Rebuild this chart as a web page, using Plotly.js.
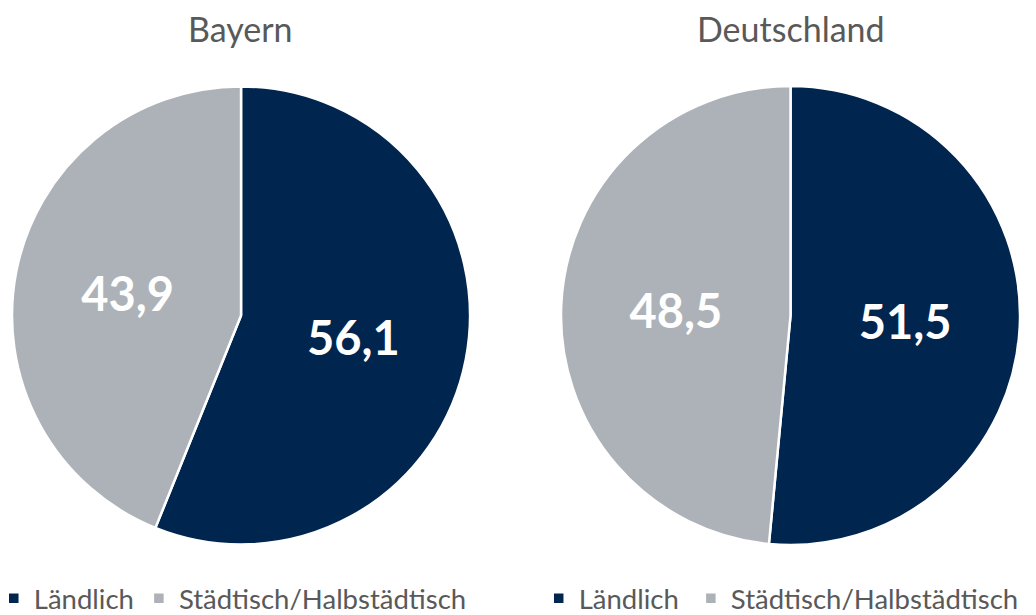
<!DOCTYPE html>
<html>
<head>
<meta charset="utf-8">
<script src="https://cdn.plot.ly/plotly-3.0.1.min.js"></script>
<style>html,body{margin:0;padding:0;background:#fff;}#chart{width:1036px;height:615px;}</style>
</head>
<body>
<div id="chart"></div>
<script>
const categories = ["Ländlich", "Städtisch/Halbstädtisch"];
const bayernValues = [56.1, 43.9];
const deutschlandValues = [51.5, 48.5];
const chartTitles = ["Bayern", "Deutschland"];
const colors = ["#00264F", "#ADB2B8"];

const FONT = "Lato, 'Open Sans', sans-serif";

function pieTrace(values, labels, domainX, legendId, name) {
  return {
    type: "pie",
    name: name,
    labels: labels,
    values: values,
    sort: false,
    direction: "clockwise",
    rotation: 0,
    domain: {x: domainX, y: [0.1138, 0.8602]},
    marker: {colors: colors, line: {color: "#ffffff", width: 2.5}},
    textinfo: "value",
    texttemplate: "%{value:.1f}",
    textposition: "inside",
    insidetextorientation: "horizontal",
    insidetextfont: {family: FONT, size: 47, color: "#ffffff", weight: "bold"},
    hoverinfo: "label+value",
    legend: legendId,
    showlegend: true
  };
}

// second pie gets an invisible trailing space so its legend entries are kept separate
const labels2 = categories.map(c => c + " ");

const data = [
  pieTrace(bayernValues, categories, [0.0116, 0.4537], "legend", chartTitles[0]),
  pieTrace(deutschlandValues, labels2, [0.5415, 0.9846], "legend2", chartTitles[1])
];

const legendCommon = {
  orientation: "h",
  yanchor: "bottom",
  y: -0.013,
  xanchor: "left",
  font: {family: FONT, size: 27.5, color: "#595959"},
  bgcolor: "rgba(0,0,0,0)",
  itemwidth: 30,
  tracegroupgap: 0
};

const layout = {
  width: 1036,
  height: 615,
  margin: {l: 0, r: 0, t: 0, b: 0, autoexpand: false},
  paper_bgcolor: "#ffffff",
  separators: ",.",
  font: {family: FONT, color: "#595959"},
  legend: Object.assign({}, legendCommon, {x: -0.006}),
  legend2: Object.assign({}, legendCommon, {x: 0.52}),
  annotations: [
    {text: chartTitles[0], x: 0.2326, y: 0.953, xref: "paper", yref: "paper", xanchor: "center", yanchor: "middle", showarrow: false, font: {family: FONT, size: 34, color: "#595959"}},
    {text: chartTitles[1], x: 0.7635, y: 0.953, xref: "paper", yref: "paper", xanchor: "center", yanchor: "middle", showarrow: false, font: {family: FONT, size: 34, color: "#595959"}}
  ]
};

Plotly.newPlot("chart", data, layout, {displayModeBar: false, staticPlot: true});
</script>
</body>
</html>
